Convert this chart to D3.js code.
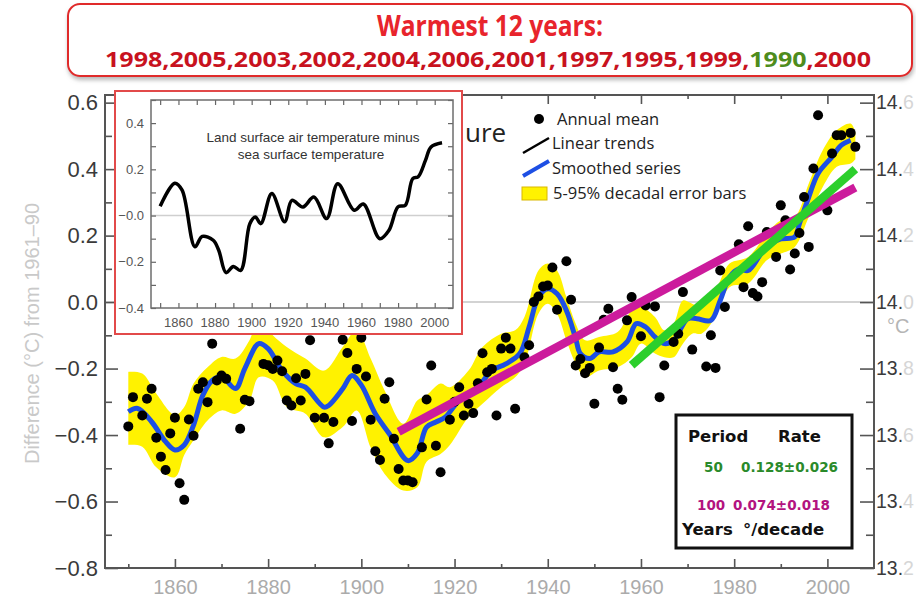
<!DOCTYPE html>
<html lang="en">
<head>
<meta charset="UTF-8">
<title>Global mean temperature</title>
<script src="https://d3js.org/d3.v7.min.js"></script>
<style>
  body { margin: 0; background: #fff; }
  svg { display: block; font-family: "Liberation Sans", Arial, sans-serif; }
</style>
</head>
<body>
<svg id="chart" width="916" height="597"></svg>
<script>
// annual means
const dotYears = [1850,1851,1853,1854,1855,1856,1857,1858,1859,1860,1861,1862,1863,1864,1865,1866,1867,1868,1869,1870,
  1871,1874,1875,1876,1879,1880,1881,1882,1883,1884,1885,1886,1887,1888,1889,1890,1892,1893,1894,1896,
  1897,1898,1899,1900,1901,1902,1903,1904,1905,1906,1907,1908,1909,1910,1911,1913,1914,1915,1916,1917,
  1919,1920,1921,1922,1923,1924,1925,1926,1927,1928,1929,1930,1931,1932,1933,1935,1936,1937,1938,1939,
  1940,1941,1942,1944,1945,1946,1947,1948,1949,1950,1951,1952,1953,1954,1955,1956,1957,1958,1960,1961,
  1963,1964,1965,1967,1968,1969,1971,1974,1975,1976,1977,1978,1981,1982,1983,1984,1985,1986,1987,1989,
  1990,1991,1992,1993,1994,1995,1996,1997,1998,2000,2001,2002,2003,2005,2006]
const dotValues = [-0.374,-0.286,-0.341,-0.291,-0.261,-0.408,-0.465,-0.505,-0.395,-0.348,-0.545,-0.595,-0.353,-0.402,-0.261,-0.241,-0.301,-0.125,-0.236,-0.221,
  -0.231,-0.381,-0.294,-0.298,-0.186,-0.19,-0.201,-0.176,-0.208,-0.296,-0.311,-0.229,-0.296,-0.216,-0.115,-0.348,-0.348,-0.425,-0.361,-0.113,
  -0.153,-0.358,-0.201,-0.107,-0.224,-0.354,-0.449,-0.475,-0.291,-0.241,-0.411,-0.502,-0.537,-0.537,-0.542,-0.437,-0.293,-0.191,-0.432,-0.512,
  -0.354,-0.30,-0.256,-0.341,-0.306,-0.334,-0.244,-0.154,-0.211,-0.201,-0.341,-0.14,-0.107,-0.14,-0.321,-0.166,-0.13,0.0,0.017,0.047,
  0.05,0.104,-0.023,0.123,0.007,-0.191,-0.171,-0.214,-0.198,-0.306,-0.137,-0.053,-0.02,-0.196,-0.261,-0.294,-0.055,0.015,-0.103,-0.01,
  -0.013,-0.286,-0.191,-0.12,-0.095,0.03,-0.143,-0.194,-0.10,-0.198,0.095,-0.015,0.174,0.045,0.228,0.027,0.017,0.06,0.211,0.136,
  0.291,0.246,0.098,0.146,0.208,0.316,0.166,0.402,0.562,0.276,0.447,0.502,0.502,0.509,0.467]

// smoothed series
const smoothYears = [1850,1852,1855,1858,1860,1862,1864,1866,1868,1870,1873,1875,1878,1880,1883,1886,1888,1892,1893,1896,
  1898,1900,1903,1906,1910,1912,1914,1916,1918,1921,1925,1928,1931,1934,1936,1938,1940,1942,1944,1946,
  1947,1949,1951,1954,1957,1959,1961,1963,1965,1967,1970,1972,1975,1977,1979,1981,1983,1986,1988,1990,
  1993,1994,1996,1998,2001,2003,2005]
const smoothValues = [-0.33,-0.32,-0.36,-0.42,-0.445,-0.43,-0.37,-0.28,-0.236,-0.224,-0.26,-0.2,-0.125,-0.14,-0.206,-0.246,-0.256,-0.316,-0.311,-0.261,
  -0.221,-0.25,-0.336,-0.396,-0.477,-0.455,-0.376,-0.361,-0.346,-0.296,-0.256,-0.206,-0.186,-0.155,-0.075,0.015,0.04,0.025,-0.025,-0.11,
  -0.155,-0.17,-0.15,-0.15,-0.12,-0.065,-0.075,-0.105,-0.125,-0.115,-0.05,-0.05,-0.055,0.005,0.075,0.1,0.095,0.15,0.176,0.19,
  0.196,0.236,0.316,0.387,0.437,0.472,0.487]

// 5-95% decadal error band
const bandYears = [1850,1853,1856,1860,1862,1864,1867,1870,1873,1876,1878,1881,1884,1888,1892,1896,1899,1902,1905,1909,
  1912,1914,1917,1919,1923,1926,1930,1933,1935,1938,1940,1942,1944,1946,1948,1951,1955,1958,1960,1963,
  1965,1967,1969,1971,1973,1976,1979,1983,1987,1990,1993,1996,1999,2002,2005,2006]
const bandLow = [-0.43,-0.435,-0.497,-0.527,-0.46,-0.416,-0.356,-0.326,-0.336,-0.296,-0.226,-0.236,-0.316,-0.336,-0.407,-0.376,-0.326,-0.437,-0.517,-0.567,
  -0.557,-0.48,-0.457,-0.43,-0.346,-0.306,-0.256,-0.226,-0.186,-0.035,-0.005,-0.035,-0.115,-0.186,-0.226,-0.206,-0.196,-0.166,-0.125,-0.155,
  -0.166,-0.166,-0.125,-0.095,-0.095,-0.045,0.045,0.056,0.126,0.146,0.166,0.256,0.346,0.407,0.417,0.43]
const bandHigh = [-0.21,-0.215,-0.275,-0.34,-0.316,-0.245,-0.196,-0.165,-0.17,-0.115,-0.05,-0.1,-0.135,-0.17,-0.206,-0.135,-0.085,-0.17,-0.266,-0.366,
  -0.296,-0.28,-0.245,-0.256,-0.206,-0.135,-0.095,-0.085,-0.045,0.095,0.116,0.095,0.015,-0.065,-0.115,-0.105,-0.09,-0.025,-0.015,-0.045,
  -0.085,-0.065,0.005,-0.005,-0.015,0.035,0.116,0.136,0.206,0.246,0.256,0.357,0.457,0.517,0.537,0.51]

// linear trends: 100 years and 50 years
const trendPeriods = ['100', '50']
const trendYears = [[1908, 2006], [1958, 2006]]
const trendValues = [[-0.39, 0.345], [-0.19, 0.40]]
const trendRates = ['0.074\u00b10.018', '0.128\u00b10.026']
const trendColors = ['#cc1b9c', '#2ccf2c']

const warmYears = ['1998','2005','2003','2002','2004','2006','2001','1997','1995','1999','1990','2000']

// inset: land minus sea
const insetYears = [1850,1858,1862,1869,1873,1879,1882,1886,1890,1894,1899,1902,1905,1911,1918,1922,1928,1934,1941,1947,
  1956,1961,1970,1975,1980,1984,1988,1991,1995,1998,2004]
const insetValues = [0.04,0.14,0.11,-0.135,-0.09,-0.107,-0.15,-0.247,-0.22,-0.237,-0.035,-0.006,-0.035,0.095,-0.027,0.066,0.037,0.08,-0.013,0.138,
  0.023,0.05,-0.1,-0.064,0.038,0.045,0.16,0.168,0.24,0.297,0.315]

const yTicks = [-0.8,-0.6,-0.4,-0.2,0,0.2,0.4,0.6]
const yMinor = [-0.7,-0.5,-0.3,-0.1,0.1,0.3,0.5]
const rightLabels = ['13.2','13.4','13.6','13.8','14.0','14.2','14.4','14.6']
const xTicks = [1860,1880,1900,1920,1940,1960,1980,2000]
const xMinor = [1850,1870,1890,1910,1930,1950,1970,1990]
const insetYTicks = [-0.4,-0.2,0,0.2,0.4]
const insetYLabels = ['\u22120.4','\u22120.2','\u22120.0','0.2','0.4']

const svg = d3.select('#chart')

const x = d3.scaleLinear([1845, 2010], [105, 874])
const y = d3.scaleLinear([-0.8, 0.623], [568, 95])

// zero line
svg.append('line')
  .attr('x1', x.range()[0]).attr('x2', x.range()[1])
  .attr('y1', y(0)).attr('y2', y(0))
  .attr('stroke', '#c4c4c4').attr('stroke-width', 1.5)

const curve = d3.curveCatmullRom.alpha(0.5)

// error band
svg.append('path')
  .datum(bandYears)
  .attr('d', d3.area()
    .x(d => x(d))
    .y0((d, i) => y(bandLow[i]))
    .y1((d, i) => y(bandHigh[i]))
    .curve(curve))
  .attr('fill', '#fff200')

// smoothed series
svg.append('path')
  .datum(smoothYears)
  .attr('d', d3.line().x(d => x(d)).y((d, i) => y(smoothValues[i])).curve(curve))
  .attr('fill', 'none')
  .attr('stroke', '#1d4fe4')
  .attr('stroke-width', 5)

// annual means
svg.append('g')
  .selectAll('circle')
  .data(dotYears)
  .join('circle')
  .attr('cx', d => x(d))
  .attr('cy', (d, i) => y(dotValues[i]))
  .attr('r', 5)
  .attr('fill', '#000')

// trends
svg.append('g')
  .selectAll('line')
  .data(trendYears)
  .join('line')
  .attr('x1', d => x(d[0]))
  .attr('x2', d => x(d[1]))
  .attr('y1', (d, i) => y(trendValues[i][0]))
  .attr('y2', (d, i) => y(trendValues[i][1]))
  .attr('stroke', (d, i) => trendColors[i])
  .attr('stroke-width', 8.5)

// axes, ticks inward
function styleAxis(g) {
  g.select('.domain').remove()
  g.selectAll('line').attr('stroke', '#555').attr('stroke-width', 1.6)
}
const y0 = y.range()[0], yTop = y.range()[1]
const xl = x.range()[0], xr = x.range()[1]

svg.append('g').attr('transform', `translate(${xl},0)`)
  .call(d3.axisLeft(y).tickValues(yTicks).tickSize(-13).tickPadding(7).tickFormat(d => d3.format('.1f')(d).replace('-', '\u2212')))
  .call(styleAxis)
  .call(g => g.selectAll('text').attr('font-size', 22).attr('fill', '#3a3a3a').attr('font-family', 'Liberation Sans, Arial'))
svg.append('g').attr('transform', `translate(${xl},0)`)
  .call(d3.axisLeft(y).tickValues(yMinor).tickSize(-7).tickFormat(''))
  .call(styleAxis)

// right scale in absolute degrees, last digit faded as in the picture
svg.append('g').attr('transform', `translate(${xr},0)`)
  .call(d3.axisRight(y).tickValues(yTicks).tickSize(-14).tickPadding(2).tickFormat(''))
  .call(styleAxis)
  .call(g => g.selectAll('text').each(function(d, i) {
    const t = d3.select(this).attr('font-size', 19.5).attr('font-family', 'Liberation Sans, Arial')
    const s = rightLabels[i]
    t.append('tspan').attr('fill', '#3a3a3a').text(s.slice(0, 3))
    t.append('tspan').attr('fill', '#d6d6d6').text(s.slice(3))
  }))
svg.append('g').attr('transform', `translate(${xr},0)`)
  .call(d3.axisRight(y).tickValues(yMinor).tickSize(-8).tickFormat(''))
  .call(styleAxis)

svg.append('g').attr('transform', `translate(0,${y0})`)
  .call(d3.axisBottom(x).tickValues(xTicks).tickSize(-9).tickPadding(12).tickFormat(d3.format('d')))
  .call(styleAxis)
  .call(g => g.selectAll('text').attr('font-size', 20).attr('fill', '#ababab').attr('font-family', 'Liberation Sans, Arial'))
svg.append('g').attr('transform', `translate(0,${y0})`)
  .call(d3.axisBottom(x).tickValues(xMinor).tickSize(-4).tickFormat(''))
  .call(styleAxis)
svg.append('g').attr('transform', `translate(0,${yTop})`)
  .call(d3.axisTop(x).tickValues(xTicks).tickSize(-9).tickFormat(''))
  .call(styleAxis)
svg.append('g').attr('transform', `translate(0,${yTop})`)
  .call(d3.axisTop(x).tickValues(xMinor).tickSize(-4).tickFormat(''))
  .call(styleAxis)

svg.append('rect')
  .attr('x', xl).attr('y', yTop).attr('width', xr - xl).attr('height', y0 - yTop)
  .attr('fill', 'none').attr('stroke', '#555').attr('stroke-width', 2)

// axis titles
svg.append('text')
  .attr('transform', `translate(32,${(y0 + yTop) / 2 + 2}) rotate(-90)`)
  .attr('text-anchor', 'middle').attr('dy', '0.35em')
  .attr('font-size', 20).attr('fill', '#c9c9c9')
  .text('Difference (\u00b0C) from 1961\u201390')
svg.append('text')
  .attr('x', 887).attr('y', 333)
  .attr('font-size', 20).attr('fill', '#b5b5b5')
  .text('\u00b0C')

// end of the chart title, the rest sits behind the inset
svg.append('text')
  .attr('x', 465).attr('y', 142)
  .attr('font-family', 'Open Sans, sans-serif')
  .attr('font-size', 26).attr('fill', '#222')
  .text('ure')

// legend
const legend = svg.append('g').attr('font-family', 'Open Sans, sans-serif').attr('font-size', 16.5).attr('fill', '#222')
legend.append('circle').attr('cx', 539).attr('cy', 119).attr('r', 5).attr('fill', '#000')
legend.append('text').attr('x', 557).attr('y', 125).text('Annual mean')
legend.append('line').attr('x1', 523).attr('y1', 153).attr('x2', 549).attr('y2', 138).attr('stroke', '#000').attr('stroke-width', 2.5)
legend.append('text').attr('x', 552).attr('y', 149).text('Linear trends')
legend.append('line').attr('x1', 523).attr('y1', 176).attr('x2', 549).attr('y2', 161).attr('stroke', '#1d4fe4').attr('stroke-width', 4)
legend.append('text').attr('x', 552).attr('y', 174).text('Smoothed series')
legend.append('rect').attr('x', 522).attr('y', 187).attr('width', 25).attr('height', 13).attr('fill', '#fff200').attr('stroke', '#d9b800')
legend.append('text').attr('x', 553).attr('y', 199).text('5-95% decadal error bars')

// inset
const inset = svg.append('g')
inset.append('rect')
  .attr('x', 115).attr('y', 91).attr('width', 347).attr('height', 243)
  .attr('fill', '#fff').attr('stroke', '#e24a4a').attr('stroke-width', 2)
const ix = d3.scaleLinear([1845, 2010], [151, 453])
const iy = d3.scaleLinear([-0.4, 0.5], [308, 100])
inset.append('line')
  .attr('x1', 151).attr('x2', 453).attr('y1', iy(0)).attr('y2', iy(0))
  .attr('stroke', '#cfcfcf').attr('stroke-width', 1.5)
function styleInset(g) {
  g.select('.domain').remove()
  g.selectAll('line').attr('stroke', '#666').attr('stroke-width', 1.2)
}
const iYt = d3.range(-0.4, 0.51, 0.1)
const iXt = d3.range(1850, 2010, 10)
inset.append('g').attr('transform', 'translate(151,0)')
  .call(d3.axisLeft(iy).tickValues(iYt).tickSize(-5).tickFormat(''))
  .call(styleInset)
inset.append('g').attr('transform', 'translate(453,0)')
  .call(d3.axisRight(iy).tickValues(iYt).tickSize(-5).tickFormat(''))
  .call(styleInset)
inset.append('g').attr('transform', 'translate(0,308)')
  .call(d3.axisBottom(ix).tickValues(iXt).tickSize(-5).tickFormat(''))
  .call(styleInset)
inset.append('g').attr('transform', 'translate(0,100)')
  .call(d3.axisTop(ix).tickValues(iXt).tickSize(-5).tickFormat(''))
  .call(styleInset)
inset.append('rect')
  .attr('x', 151).attr('y', 100).attr('width', 302).attr('height', 208)
  .attr('fill', 'none').attr('stroke', '#6e6e6e').attr('stroke-width', 1.5)
inset.append('g').attr('font-size', 13).attr('fill', '#555').attr('text-anchor', 'end')
  .selectAll('text').data(insetYTicks).join('text')
  .attr('x', 144).attr('y', d => iy(d)).attr('dy', '0.35em')
  .text((d, i) => insetYLabels[i])
inset.append('g').attr('font-size', 13).attr('fill', '#555').attr('text-anchor', 'middle')
  .selectAll('text').data(xTicks).join('text')
  .attr('x', d => ix(d)).attr('y', 327)
  .text(d => d)
inset.append('text').attr('x', 313).attr('y', 142).attr('text-anchor', 'middle')
  .attr('font-size', 13.5).attr('fill', '#333').text('Land surface air temperature minus')
inset.append('text').attr('x', 311).attr('y', 159).attr('text-anchor', 'middle')
  .attr('font-size', 13.5).attr('fill', '#333').text('sea surface temperature')
inset.append('path')
  .datum(insetYears)
  .attr('d', d3.line().x(d => ix(d)).y((d, i) => iy(insetValues[i])).curve(curve))
  .attr('fill', 'none').attr('stroke', '#000').attr('stroke-width', 3.5)

// rate box
const box = svg.append('g').attr('font-family', 'DejaVu Sans, sans-serif').attr('font-weight', 'bold')
box.append('rect')
  .attr('x', 676).attr('y', 415).attr('width', 176).attr('height', 133)
  .attr('fill', '#fff').attr('stroke', '#111').attr('stroke-width', 3)
box.append('text').attr('x', 688).attr('y', 442).attr('font-size', 16.5).attr('fill', '#111').text('Period')
box.append('text').attr('x', 778).attr('y', 442).attr('font-size', 16.5).attr('fill', '#111').text('Rate')
box.selectAll('text.period').data(trendPeriods).join('text')
  .attr('class', 'period')
  .attr('x', (d, i) => i ? 704 : 697)
  .attr('y', (d, i) => i ? 472 : 510)
  .attr('font-size', 13.5)
  .attr('fill', (d, i) => i ? '#2a8a2a' : '#b3137f')
  .text(d => d)
box.selectAll('text.rate').data(trendRates).join('text')
  .attr('class', 'rate')
  .attr('x', (d, i) => i ? 741 : 733)
  .attr('y', (d, i) => i ? 472 : 510)
  .attr('font-size', 13.5)
  .attr('fill', (d, i) => i ? '#2a8a2a' : '#b3137f')
  .attr('textLength', 97).attr('lengthAdjust', 'spacingAndGlyphs')
  .text(d => d)
box.append('text').attr('x', 682).attr('y', 535).attr('font-size', 16.5).attr('fill', '#111').text('Years')
box.append('text').attr('x', 743).attr('y', 535).attr('font-size', 16.5).attr('fill', '#111').text('\u00b0/decade')

// title banner
const defs = svg.append('defs')
defs.append('filter').attr('id', 'shadow').attr('x', '-5%').attr('y', '-20%').attr('width', '110%').attr('height', '150%')
  .append('feDropShadow').attr('dx', 1).attr('dy', 3).attr('stdDeviation', 2).attr('flood-color', '#999').attr('flood-opacity', 0.7)
svg.append('rect')
  .attr('x', 68).attr('y', 4).attr('width', 844).attr('height', 72).attr('rx', 12)
  .attr('fill', '#fff').attr('stroke', '#e02a2a').attr('stroke-width', 2)
  .attr('filter', 'url(#shadow)')
svg.append('text')
  .attr('x', 490).attr('y', 36).attr('text-anchor', 'middle')
  .attr('font-family', 'Open Sans, sans-serif').attr('font-weight', 'bold')
  .attr('font-size', 28).attr('fill', '#e8242c')
  .attr('textLength', 226).attr('lengthAdjust', 'spacingAndGlyphs')
  .text('Warmest 12 years:')
const yrs = svg.append('text')
  .attr('x', 105).attr('y', 67)
  .attr('font-family', 'Open Sans, sans-serif').attr('font-weight', 'bold')
  .attr('font-size', 22)
  .attr('textLength', 766).attr('lengthAdjust', 'spacingAndGlyphs')
warmYears.forEach((yr, i) => {
  yrs.append('tspan').attr('fill', yr === '1990' ? '#4e8c1c' : '#c8121e').text(yr)
  if (i < warmYears.length - 1) yrs.append('tspan').attr('fill', '#c8121e').text(',')
})
</script>
</body>
</html>
